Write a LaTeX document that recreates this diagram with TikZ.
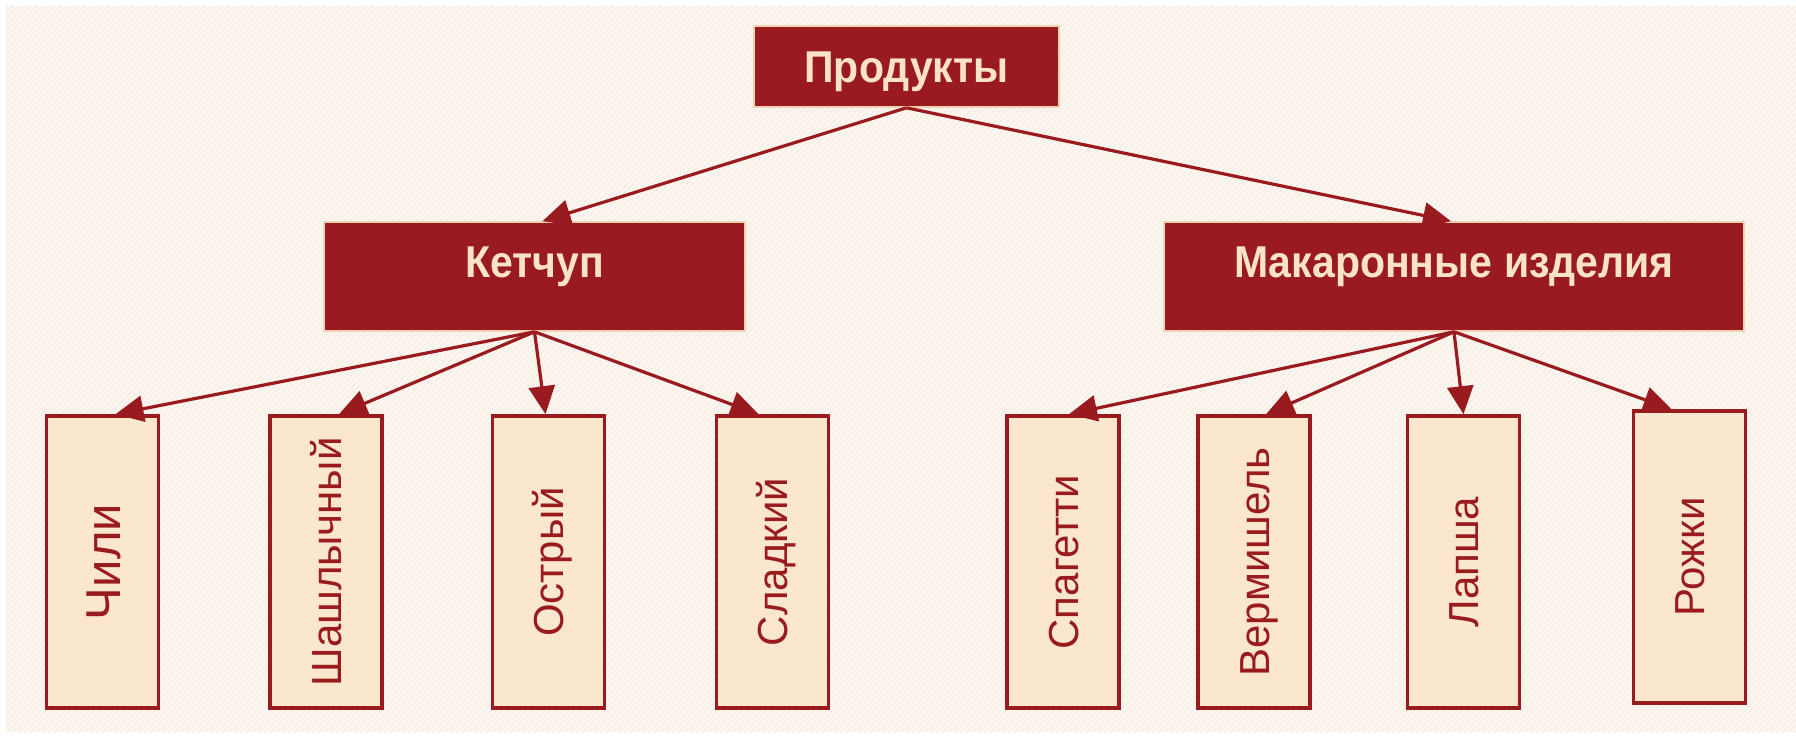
\documentclass[tikz,border=0pt]{standalone}
\usepackage{fontspec}
\setmainfont{Liberation Sans}
\newfontfamily\headfont[FakeStretch=0.92]{Liberation Sans}
\usetikzlibrary{arrows.meta,patterns,calc}
\definecolor{darkred}{HTML}{9A1B1F}
\definecolor{cream}{HTML}{FBE4C6}
\definecolor{leaffill}{HTML}{FBE6CE}
\definecolor{bgfill}{HTML}{FBF6F0}
\definecolor{bgstripe}{HTML}{F3EAE0}
\definecolor{boxedge}{HTML}{F3D2B4}
\newcommand\vtext[1]{\rotatebox{90}{\raisebox{0pt}[0.716em][0pt]{#1}}}
\begin{document}
\begin{tikzpicture}[x=0.5pt,y=-0.5pt,
  headbox/.style={rectangle, fill=darkred, draw=boxedge, line width=0.8pt,
    text=cream, font=\headfont\bfseries\fontsize{22.3}{26}\selectfont,
    inner xsep=0pt, inner ysep=0pt},
  leaf/.style={rectangle, fill=leaffill, draw=darkred, line width=1.8pt,
    text=darkred, font=\fontsize{21}{25}\selectfont,
    minimum width=56pt, minimum height=146pt, inner sep=0pt},
  conn/.style={draw=darkred, line width=1.6pt,
    -{Triangle[length=14pt,width=13pt]}}
]
\useasboundingbox (0,0) rectangle (1796,745);
\fill[white] (0,0) rectangle (1796,745);
\fill[bgfill] (6,6) rectangle (1796,732);
\fill[pattern=north east lines, pattern color=bgstripe] (6,6) rectangle (1796,732);

% top level
\node[headbox, minimum width=152.5pt, text height=28pt, text depth=12.5pt]
  (prod) at (906.5,66.5) {Продукты};

% second level
\node[headbox, minimum width=210.5pt, text height=27.5pt, text depth=27pt]
  (ketchup) at (534.5,276.5) {Кетчуп};
\node[headbox, minimum width=290pt, text height=27.5pt, text depth=27pt]
  (mac) at (1454,276.5) {Макаронные изделия};

% leaves
\node[leaf] (chili) at (102.5,562) {\fontsize{24.5}{28}\selectfont\vtext{Чили}};
\node[leaf] (shash) at (326,562) {\vtext{Шашлычный}};
\node[leaf] (ostr)  at (548.5,562) {\vtext{Острый}};
\node[leaf] (slad)  at (772.5,562) {\vtext{Сладкий}};
\node[leaf] (spag)  at (1063,562) {\vtext{Спагетти}};
\node[leaf] (verm)  at (1254,562) {\vtext{Вермишель}};
\node[leaf] (lapsha) at (1463.5,562) {\vtext{Лапша}};
\node[leaf] (rozhki) at (1689.5,557) {\vtext{Рожки}};

% connectors
\draw[conn] (prod.south) -- ($(ketchup.north)+(8,0)$);
\draw[conn] (prod.south) -- ($(mac.north)+(-3,0)$);
\draw[conn] (ketchup.south) -- ($(chili.north)+(13,0)$);
\draw[conn] (ketchup.south) -- ($(shash.north)+(13,0)$);
\draw[conn] (ketchup.south) -- ($(ostr.north)+(-3,0)$);
\draw[conn] (ketchup.south) -- ($(slad.north)+(-14,0)$);
\draw[conn] (mac.south) -- ($(spag.north)+(6,0)$);
\draw[conn] (mac.south) -- ($(verm.north)+(12,0)$);
\draw[conn] (mac.south) -- (lapsha.north);
\draw[conn] (mac.south) -- ($(rozhki.north)+(-18,0)$);
\end{tikzpicture}
\end{document}
